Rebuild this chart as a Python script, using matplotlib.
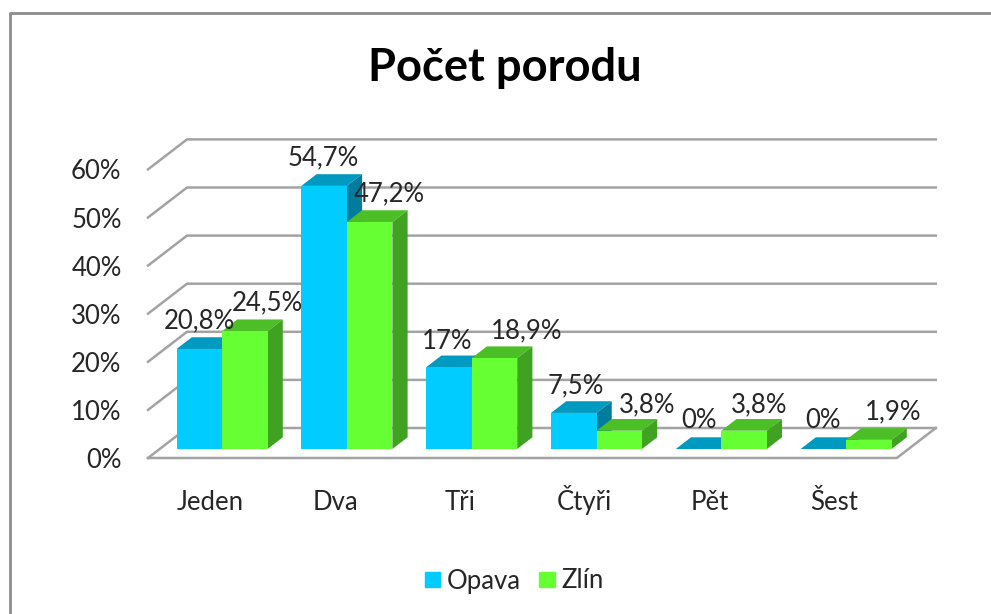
#!/usr/bin/env python3
# -*- coding: utf-8 -*-

# Importing Libraries
import matplotlib
matplotlib.use('Agg')
import matplotlib.pyplot as plt
from matplotlib.lines import Line2D
from matplotlib.patches import Patch

plt.rcParams['font.family'] = ['Lato', 'DejaVu Sans']

# Chart data
categories = ['Jeden', 'Dva', 'Tři', 'Čtyři', 'Pět', 'Šest']
opava = [20.8, 54.7, 17, 7.5, 0, 0]
zlin = [24.5, 47.2, 18.9, 3.8, 3.8, 1.9]
opava_labels = ['20,8%', '54,7%', '17%', '7,5%', '0%', '0%']
zlin_labels = ['24,5%', '47,2%', '18,9%', '3,8%', '3,8%', '1,9%']
y_ticks = [0, 10, 20, 30, 40, 50, 60]

# label shift in pixels from the top of the bar
opava_dx = [0, -1, -2, 2, 0, 0]
opava_dy = [28, 28, 26, 27, 28, 28]
zlin_dx = [23, 20, 32, 28, 15, 24]
zlin_dy = [28, 28, 27, 26, 26, 28]

# colours
BLUE, BLUE_TOP, BLUE_SIDE = '#00CCFF', '#0099BF', '#007C9E'
GREEN, GREEN_TOP, GREEN_SIDE = '#66FF33', '#4CBF26', '#3FA321'
GREY = '#A3A3A3'
TEXT = '#262626'
FS = 18.5

# 3d look: px per unit and how far the back wall is shifted
PX_X = 124.8
PX_Y = 4.81
WALL_DX = 39 / PX_X
WALL_DY = 30 / PX_Y
BAR_W = 45.5 / PX_X
BAR_D0 = 0.3
BAR_D1 = 0.69

W, H = 991, 614
fig = plt.figure(figsize=(W / 100, H / 100), dpi=100)
ax = fig.add_axes([148 / W, 1 - 458 / H, (6 * PX_X + 39) / W, (60 * PX_Y + 30) / H])
ax.set_xlim(0, 6 + WALL_DX)
ax.set_ylim(0, 60 + WALL_DY)
for s in ax.spines.values():
    s.set_visible(False)


def proj(x, y, d):
    return x + d * WALL_DX, y + d * WALL_DY


# Grid lines on the back wall and left wall
for t in y_ticks:
    p0 = proj(0, t, 0)
    p1 = proj(0, t, 1)
    p2 = proj(6, t, 1)
    ax.plot([p0[0], p1[0], p2[0]], [p0[1], p1[1], p2[1]], color=GREY, lw=1.8,
            clip_on=False, zorder=1, solid_joinstyle='miter')

# Floor
p0 = proj(0, 0, 0)
p1 = proj(6, 0, 0)
p2 = proj(6, 0, 1)
ax.plot([p0[0], p1[0], p2[0]], [p0[1], p1[1], p2[1]], color=GREY, lw=1.8,
        clip_on=False, zorder=1)


def draw_bar(left, value, front, top, side, z):
    x0, y0 = proj(left, 0, BAR_D0)
    xr = x0 + BAR_W
    dx = (BAR_D1 - BAR_D0) * WALL_DX
    dy = (BAR_D1 - BAR_D0) * WALL_DY
    ax.fill([x0, xr, xr + dx, x0 + dx], [y0 + value, y0 + value, y0 + value + dy, y0 + value + dy],
            color=top, lw=0, zorder=z)
    ax.fill([xr, xr + dx, xr + dx, xr], [y0, y0 + dy, y0 + value + dy, y0 + value],
            color=side, lw=0, zorder=z)
    if value > 0:
        ax.bar(x0, value, BAR_W, bottom=y0, align='edge', color=front, lw=0, zorder=z + 0.1)
    return x0 + BAR_W / 2, y0 + value


# Bars and their labels
for i in range(len(categories)):
    left = i + 0.5 - BAR_W
    xa, ya = draw_bar(left, opava[i], BLUE, BLUE_TOP, BLUE_SIDE, 3 + i)
    xb, yb = draw_bar(left + BAR_W, zlin[i], GREEN, GREEN_TOP, GREEN_SIDE, 3.5 + i)
    ax.annotate(opava_labels[i], (xa, ya), xytext=(opava_dx[i], opava_dy[i]), textcoords='offset pixels',
                ha='center', va='center', fontsize=FS, color=TEXT, zorder=20)
    ax.annotate(zlin_labels[i], (xb, yb), xytext=(zlin_dx[i], zlin_dy[i]), textcoords='offset pixels',
                ha='center', va='center', fontsize=FS, color=TEXT, zorder=20)

# Axis labels
ax.set_xticks([i + 0.5 for i in range(len(categories))])
ax.set_xticklabels(categories, va='baseline')
ax.set_yticks(y_ticks)
ax.set_yticklabels([str(t) + '%' for t in y_ticks])
ax.tick_params(axis='x', length=0, pad=37.5, labelsize=FS, labelcolor=TEXT)
ax.tick_params(axis='y', length=0, pad=19, labelsize=FS, labelcolor=TEXT)

# Title
fig.text(505 / W, 1 - 68 / H, 'Počet porodu', ha='center', va='center', fontsize=32.6,
         fontweight='bold', color='black')

# Legend
handles = [Patch(color=BLUE, label='Opava'), Patch(color=GREEN, label='Zlín')]
fig.legend(handles=handles, loc='center', bbox_to_anchor=(514 / W, 1 - 581 / H), ncol=2, frameon=False,
           fontsize=FS, labelcolor=TEXT, handlelength=0.6, handleheight=0.5, handletextpad=0.25,
           columnspacing=0.73)

# Chart border (left and top edges)
fig.add_artist(Line2D([10 / W, 10 / W, 1], [0, 1 - 13 / H, 1 - 13 / H], color='#8C8C8C', lw=2))

plt.savefig('out.png', dpi=100)
